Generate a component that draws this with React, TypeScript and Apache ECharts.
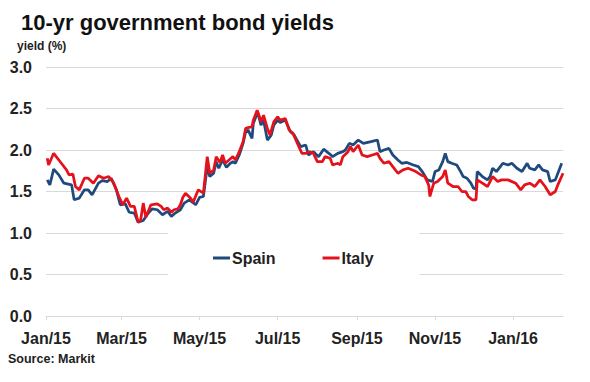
import React, { useEffect, useRef } from "react";
import * as echarts from "echarts";

const titleText = "10-yr government bond yields";
const yAxisTitle = "yield (%)";
const sourceText = "Source: Markit";
const seriesNames = ["Spain", "Italy"];

const xMin = "2015-01-01";
const xMax = "2016-02-09";
const tickDates = ["2015-01-01", "2015-03-01", "2015-05-01", "2015-07-01", "2015-09-01", "2015-11-01", "2016-01-01"];
const tickLabels = ["Jan/15", "Mar/15", "May/15", "Jul/15", "Sep/15", "Nov/15", "Jan/16"];
const yMin = 0;
const yMax = 3;
const yStep = 0.5;

const spain: [string, number][] = [
  ["2015-01-02", 1.64], ["2015-01-04", 1.58], ["2015-01-07", 1.77], ["2015-01-11", 1.70], ["2015-01-15", 1.60],
  ["2015-01-21", 1.58], ["2015-01-23", 1.40], ["2015-01-27", 1.42], ["2015-01-31", 1.52], ["2015-02-03", 1.52],
  ["2015-02-06", 1.46], ["2015-02-11", 1.60], ["2015-02-14", 1.63], ["2015-02-18", 1.62], ["2015-02-21", 1.66],
  ["2015-02-25", 1.52], ["2015-02-28", 1.34], ["2015-03-04", 1.35], ["2015-03-07", 1.25], ["2015-03-11", 1.24],
  ["2015-03-14", 1.13], ["2015-03-18", 1.15], ["2015-03-22", 1.24], ["2015-03-25", 1.29], ["2015-03-29", 1.28],
  ["2015-04-02", 1.22], ["2015-04-06", 1.26], ["2015-04-09", 1.20], ["2015-04-12", 1.24], ["2015-04-16", 1.28],
  ["2015-04-19", 1.36], ["2015-04-23", 1.40], ["2015-04-28", 1.34], ["2015-05-01", 1.43], ["2015-05-04", 1.44],
  ["2015-05-07", 1.80], ["2015-05-09", 1.68], ["2015-05-12", 1.72], ["2015-05-14", 1.86], ["2015-05-16", 1.78],
  ["2015-05-19", 1.88], ["2015-05-22", 1.79], ["2015-05-25", 1.84], ["2015-05-27", 1.86], ["2015-05-29", 1.84],
  ["2015-06-01", 1.94], ["2015-06-04", 2.08], ["2015-06-06", 2.22], ["2015-06-08", 2.24], ["2015-06-11", 2.14],
  ["2015-06-12", 2.32], ["2015-06-15", 2.44], ["2015-06-16", 2.42], ["2015-06-18", 2.30], ["2015-06-20", 2.36],
  ["2015-06-23", 2.12], ["2015-06-26", 2.18], ["2015-06-28", 2.30], ["2015-07-01", 2.36], ["2015-07-03", 2.33],
  ["2015-07-07", 2.36], ["2015-07-11", 2.22], ["2015-07-14", 2.18], ["2015-07-19", 2.04], ["2015-07-23", 2.06],
  ["2015-07-25", 1.94], ["2015-07-29", 1.98], ["2015-08-02", 1.92], ["2015-08-06", 2.01], ["2015-08-10", 1.96],
  ["2015-08-13", 1.92], ["2015-08-17", 1.96], ["2015-08-21", 1.98], ["2015-08-23", 2.00], ["2015-08-26", 2.08],
  ["2015-08-29", 2.06], ["2015-09-02", 2.12], ["2015-09-06", 2.08], ["2015-09-12", 2.10], ["2015-09-17", 2.12],
  ["2015-09-19", 1.98], ["2015-09-22", 2.00], ["2015-09-26", 2.02], ["2015-09-29", 1.94], ["2015-10-03", 1.88],
  ["2015-10-06", 1.84], ["2015-10-10", 1.85], ["2015-10-15", 1.82], ["2015-10-19", 1.80], ["2015-10-22", 1.74],
  ["2015-10-26", 1.64], ["2015-10-30", 1.62], ["2015-11-01", 1.74], ["2015-11-04", 1.76], ["2015-11-07", 1.86],
  ["2015-11-09", 1.96], ["2015-11-11", 1.86], ["2015-11-14", 1.84], ["2015-11-18", 1.82], ["2015-11-21", 1.74],
  ["2015-11-23", 1.68], ["2015-11-26", 1.66], ["2015-11-29", 1.60], ["2015-12-01", 1.54], ["2015-12-03", 1.53],
  ["2015-12-04", 1.74], ["2015-12-08", 1.68], ["2015-12-12", 1.64], ["2015-12-14", 1.68], ["2015-12-16", 1.78],
  ["2015-12-19", 1.74], ["2015-12-22", 1.80], ["2015-12-24", 1.84], ["2015-12-28", 1.82], ["2015-12-31", 1.84],
  ["2016-01-04", 1.78], ["2016-01-08", 1.74], ["2016-01-12", 1.84], ["2016-01-14", 1.78], ["2016-01-18", 1.76],
  ["2016-01-21", 1.82], ["2016-01-24", 1.76], ["2016-01-28", 1.74], ["2016-01-30", 1.62], ["2016-02-03", 1.64],
  ["2016-02-05", 1.72], ["2016-02-08", 1.84],
];

const italy: [string, number][] = [
  ["2015-01-02", 1.90], ["2015-01-03", 1.82], ["2015-01-07", 1.96], ["2015-01-13", 1.84], ["2015-01-17", 1.76],
  ["2015-01-19", 1.70], ["2015-01-22", 1.71], ["2015-01-24", 1.56], ["2015-01-27", 1.52], ["2015-01-31", 1.66],
  ["2015-02-03", 1.66], ["2015-02-07", 1.60], ["2015-02-11", 1.69], ["2015-02-15", 1.66], ["2015-02-19", 1.68],
  ["2015-02-23", 1.60], ["2015-02-27", 1.44], ["2015-03-02", 1.34], ["2015-03-05", 1.42], ["2015-03-08", 1.32],
  ["2015-03-11", 1.32], ["2015-03-14", 1.13], ["2015-03-16", 1.16], ["2015-03-18", 1.36], ["2015-03-20", 1.19],
  ["2015-03-24", 1.34], ["2015-03-29", 1.35], ["2015-04-01", 1.32], ["2015-04-03", 1.28], ["2015-04-06", 1.30],
  ["2015-04-09", 1.25], ["2015-04-11", 1.28], ["2015-04-14", 1.29], ["2015-04-16", 1.34], ["2015-04-18", 1.43],
  ["2015-04-20", 1.48], ["2015-04-24", 1.42], ["2015-04-26", 1.37], ["2015-04-30", 1.52], ["2015-05-04", 1.48],
  ["2015-05-07", 1.92], ["2015-05-09", 1.72], ["2015-05-12", 1.76], ["2015-05-14", 1.92], ["2015-05-17", 1.85],
  ["2015-05-19", 1.94], ["2015-05-21", 1.84], ["2015-05-24", 1.88], ["2015-05-27", 1.92], ["2015-05-29", 1.88],
  ["2015-06-01", 1.98], ["2015-06-04", 2.10], ["2015-06-06", 2.26], ["2015-06-08", 2.27], ["2015-06-11", 2.28],
  ["2015-06-12", 2.36], ["2015-06-15", 2.48], ["2015-06-16", 2.44], ["2015-06-18", 2.34], ["2015-06-20", 2.42],
  ["2015-06-23", 2.26], ["2015-06-25", 2.18], ["2015-06-28", 2.34], ["2015-07-01", 2.40], ["2015-07-03", 2.36],
  ["2015-07-07", 2.38], ["2015-07-10", 2.24], ["2015-07-13", 2.20], ["2015-07-17", 2.06], ["2015-07-20", 1.96],
  ["2015-07-23", 1.96], ["2015-07-26", 1.98], ["2015-07-29", 1.96], ["2015-08-01", 1.86], ["2015-08-05", 1.86],
  ["2015-08-07", 1.92], ["2015-08-11", 1.90], ["2015-08-13", 1.82], ["2015-08-17", 1.84], ["2015-08-19", 1.82],
  ["2015-08-21", 1.92], ["2015-08-25", 1.98], ["2015-08-27", 2.04], ["2015-08-29", 1.98], ["2015-09-02", 2.06],
  ["2015-09-05", 1.94], ["2015-09-09", 1.92], ["2015-09-13", 1.94], ["2015-09-17", 1.96], ["2015-09-19", 1.90],
  ["2015-09-22", 1.84], ["2015-09-26", 1.86], ["2015-09-29", 1.80], ["2015-10-03", 1.72], ["2015-10-07", 1.76],
  ["2015-10-11", 1.78], ["2015-10-17", 1.74], ["2015-10-21", 1.70], ["2015-10-24", 1.68], ["2015-10-27", 1.58],
  ["2015-10-28", 1.44], ["2015-10-31", 1.60], ["2015-11-03", 1.62], ["2015-11-07", 1.68], ["2015-11-09", 1.76],
  ["2015-11-11", 1.60], ["2015-11-15", 1.56], ["2015-11-19", 1.56], ["2015-11-22", 1.50], ["2015-11-25", 1.50],
  ["2015-11-27", 1.44], ["2015-11-30", 1.40], ["2015-12-03", 1.40], ["2015-12-04", 1.64], ["2015-12-08", 1.60],
  ["2015-12-12", 1.56], ["2015-12-14", 1.62], ["2015-12-16", 1.68], ["2015-12-20", 1.62], ["2015-12-23", 1.64],
  ["2015-12-28", 1.64], ["2016-01-03", 1.60], ["2016-01-07", 1.52], ["2016-01-10", 1.58], ["2016-01-14", 1.60],
  ["2016-01-18", 1.56], ["2016-01-22", 1.64], ["2016-01-26", 1.56], ["2016-01-30", 1.46], ["2016-02-03", 1.50],
  ["2016-02-05", 1.58], ["2016-02-09", 1.72],
];

const colors = ["#1F4A7E", "#E5121B"];

function dayIndex(s: string): number {
  const [y, m, d] = s.split("-").map(Number);
  const [y0, m0, d0] = xMin.split("-").map(Number);
  return Math.round((Date.UTC(y, m - 1, d) - Date.UTC(y0, m0 - 1, d0)) / 86400000);
}

export default function App() {
  const ref = useRef<HTMLDivElement>(null);

  useEffect(() => {
    if (!ref.current) return;
    const chart = echarts.init(ref.current, undefined, { renderer: "svg" });
    const tickDays = tickDates.map(dayIndex);
    const labelFor = (v: number) => {
      const i = tickDays.indexOf(Math.round(v));
      return i >= 0 ? tickLabels[i] : "";
    };
    const font = "Liberation Sans, Arial, sans-serif";
    chart.setOption({
      animation: false,
      backgroundColor: "#ffffff",
      title: {
        text: titleText,
        left: 16,
        top: 6,
        textStyle: { fontFamily: font, fontSize: 22, fontWeight: "bold", color: "#111111" },
      },
      graphic: [
        {
          type: "text",
          left: 17,
          top: 40,
          style: { text: yAxisTitle, font: `bold 12px ${font}`, fill: "#222222" },
        },
        {
          type: "text",
          left: 8,
          top: 352,
          style: { text: sourceText, font: `bold 12.5px ${font}`, fill: "#222222" },
        },
      ],
      legend: {
        data: seriesNames,
        left: 168,
        top: 230,
        padding: [20, 46, 16, 45],
        backgroundColor: "#ffffff",
        icon: "rect",
        itemWidth: 17,
        itemHeight: 3,
        itemGap: 47,
        textStyle: { fontFamily: font, fontSize: 16, fontWeight: "bold", color: "#222222", padding: [0, 0, 0, -3] },
      },
      grid: { left: 46, right: 27, top: 67, bottom: 66, containLabel: false },
      xAxis: {
        type: "value",
        min: dayIndex(xMin),
        max: dayIndex(xMax),
        axisLine: { show: true, lineStyle: { color: "#d9d9d9", width: 1 } },
        axisTick: { show: true, customValues: tickDays, length: 4, lineStyle: { color: "#d9d9d9" } },
        axisLabel: {
          customValues: tickDays,
          formatter: (v: number) => labelFor(v),
          margin: 14,
          fontFamily: font,
          fontSize: 16,
          fontWeight: "bold",
          color: "#222222",
          hideOverlap: false,
        },
        splitLine: { show: false },
      },
      yAxis: {
        type: "value",
        min: yMin,
        max: yMax,
        interval: yStep,
        axisLine: { show: false },
        axisTick: { show: false },
        axisLabel: {
          formatter: (v: number) => v.toFixed(1),
          margin: 14,
          fontFamily: font,
          fontSize: 16,
          fontWeight: "bold",
          color: "#222222",
        },
        splitLine: { lineStyle: { color: "#d9d9d9", width: 1 } },
      },
      series: [
        {
          name: seriesNames[0],
          type: "line",
          data: spain.map(([d, v]) => [dayIndex(d), v]),
          symbol: "none",
          lineStyle: { color: colors[0], width: 2.75 },
          itemStyle: { color: colors[0] },
        },
        {
          name: seriesNames[1],
          type: "line",
          data: italy.map(([d, v]) => [dayIndex(d), v]),
          symbol: "none",
          lineStyle: { color: colors[1], width: 2.75 },
          itemStyle: { color: colors[1] },
        },
      ],
    });
    return () => chart.dispose();
  }, []);

  return <div ref={ref} style={{ width: 590, height: 382, position: "absolute", left: 0, top: 0 }} />;
}
